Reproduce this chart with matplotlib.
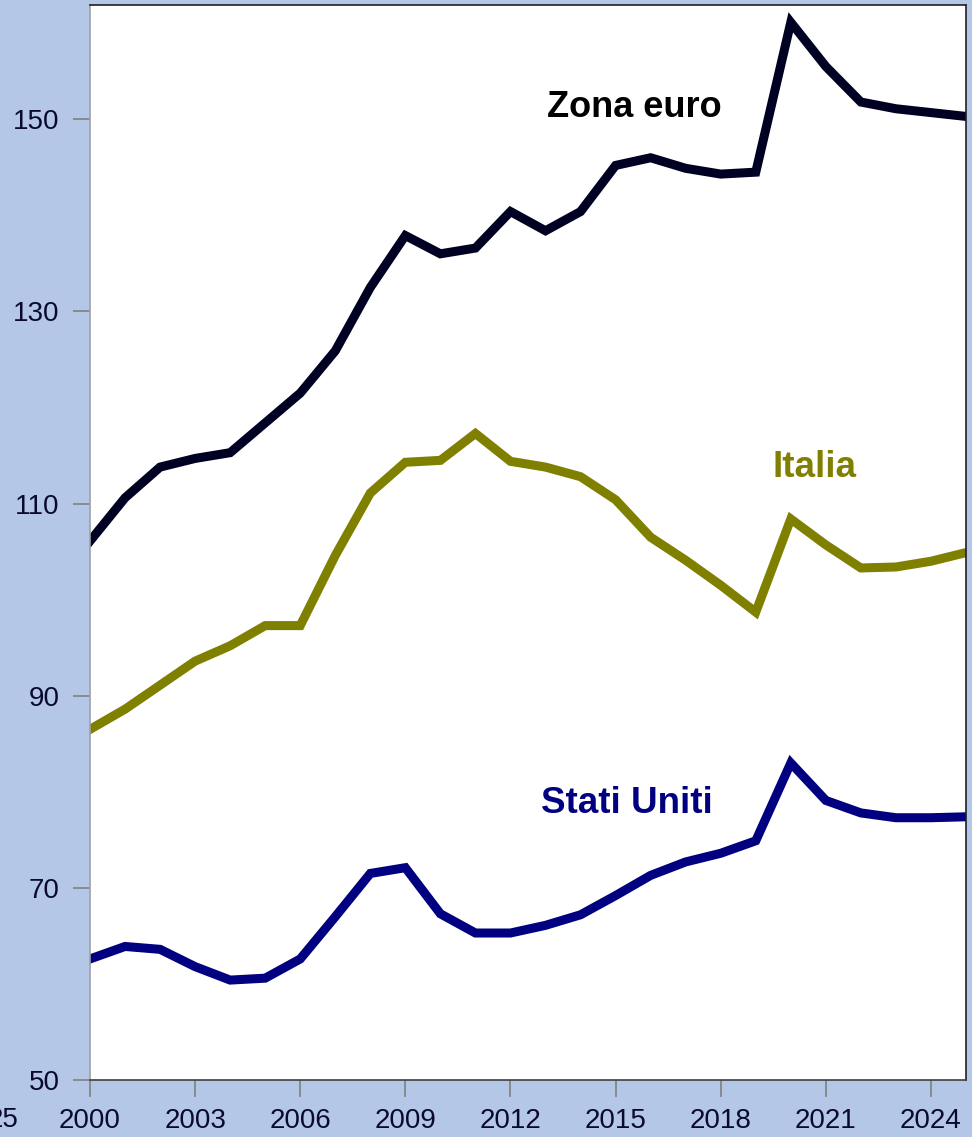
import matplotlib.pyplot as plt

plt.rcParams['font.family'] = ['Liberation Sans', 'DejaVu Sans']

years = list(range(2000, 2026))

zona_euro = [106.1, 110.6, 113.8, 114.7, 115.3, 118.4, 121.5, 125.9, 132.5, 137.9,
             136.0, 136.6, 140.4, 138.4, 140.4, 145.2, 146.0, 144.9, 144.3, 144.5,
             160.1, 155.5, 151.8, 151.1, 150.7, 150.3]
italia = [86.5, 88.6, 91.1, 93.6, 95.2, 97.3, 97.3, 104.6, 111.1, 114.3,
          114.5, 117.3, 114.4, 113.8, 112.8, 110.4, 106.5, 104.1, 101.5, 98.7,
          108.4, 105.7, 103.3, 103.4, 104.0, 104.9]
stati_uniti = [62.6, 63.9, 63.6, 61.8, 60.4, 60.6, 62.6, 67.0, 71.5, 72.1,
               67.3, 65.3, 65.3, 66.1, 67.2, 69.2, 71.3, 72.7, 73.6, 74.9,
               83.0, 79.1, 77.8, 77.3, 77.3, 77.4]

xticks = [2000, 2003, 2006, 2009, 2012, 2015, 2018, 2021, 2024]
yticks = [50, 70, 90, 110, 130, 150]

bg = '#B4C7E7'
fig = plt.figure(figsize=(9.72, 11.37), dpi=100, facecolor=bg)
ax = fig.add_axes([90 / 972, 57 / 1137, 876 / 972, 1075 / 1137])
ax.set_facecolor('white')

lw = 6.5
ax.plot(years, zona_euro, color='#000022', lw=lw, solid_joinstyle='miter')
ax.plot(years, italia, color='#808000', lw=lw, solid_joinstyle='miter')
ax.plot(years, stati_uniti, color='#000080', lw=lw, solid_joinstyle='miter')

ax.text(2013.04, 151.2, 'Zona euro', color='black', fontsize=26, fontweight='bold', va='center', ha='left')
ax.text(2019.49, 113.8, 'Italia', color='#808000', fontsize=26.5, fontweight='bold', va='center', ha='left')
ax.text(2012.87, 78.8, 'Stati Uniti', color='#000080', fontsize=26.5, fontweight='bold', va='center', ha='left')

ax.set_xlim(2000, 2025)
ax.set_ylim(50, 161.9)
ax.set_xticks(xticks)
ax.set_yticks(yticks)
ax.tick_params(axis='both', direction='out', length=12, width=1.2, color='#808080',
               labelsize=20, labelcolor='#0A0A30')
ax.tick_params(axis='x', pad=8)
ax.tick_params(axis='y', pad=10)

ax.spines['left'].set_color('#a0a0a0')
ax.spines['bottom'].set_color('#404040')
ax.spines['top'].set_color('#202020')
ax.spines['right'].set_color('#202020')
for s in ax.spines.values():
    s.set_linewidth(1.2)

fig.text(-12, 1137 - 1120, '25', transform=None, fontsize=20, color='#0A0A30', va='center', ha='left')

fig.savefig('out.png', dpi=100, facecolor=bg)
